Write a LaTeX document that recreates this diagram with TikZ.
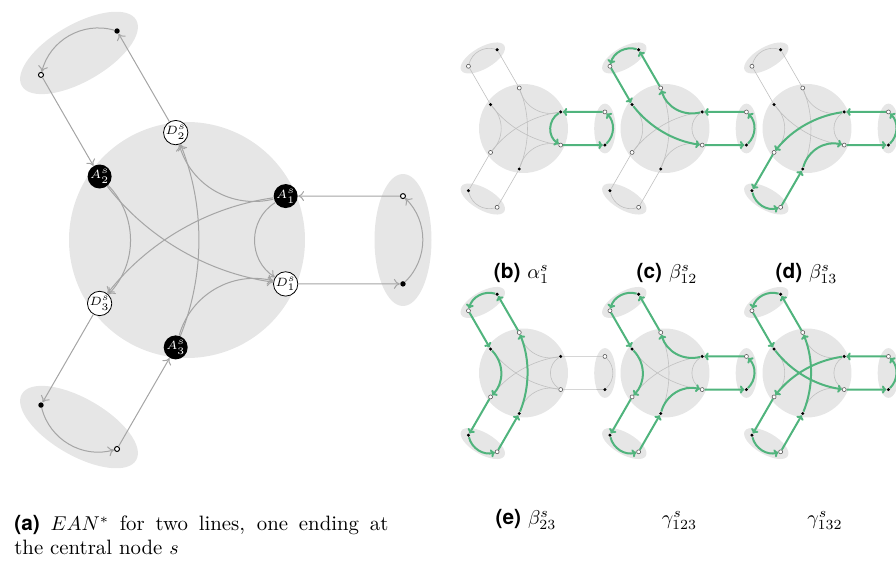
\documentclass[tikz,border=0pt]{standalone}
\usepackage{fontspec}
\newfontfamily\hvfont{TeX Gyre Heros}
\usetikzlibrary{arrows.meta}
\definecolor{bgfill}{RGB}{230,230,230}
\definecolor{edgegray}{RGB}{165,165,165}
\definecolor{lightedge}{RGB}{192,192,192}
\definecolor{hlgreen}{RGB}{80,180,125}
\tikzset{
  bigA/.style={circle, fill=black, text=white, minimum size=12pt, inner sep=0pt, font=\fontsize{6}{7}\selectfont},
  bigD/.style={circle, draw=black, line width=0.4pt, fill=white, minimum size=12pt, inner sep=0pt, font=\fontsize{6}{7}\selectfont},
  bigF/.style={circle, fill=black, minimum size=2.7pt, inner sep=0pt},
  bigO/.style={circle, draw=black, fill=white, line width=0.5pt, minimum size=2.5pt, inner sep=0pt},
  garrow/.style={draw=edgegray, line width=0.5pt, -{Computer Modern Rightarrow[length=3pt,width=5pt]}},
  smA/.style={circle, fill=black, minimum size=1.7pt, inner sep=0pt},
  smD/.style={circle, draw=black!65, fill=white, line width=0.3pt, minimum size=2pt, inner sep=0pt},
  sedge/.style={draw=lightedge, line width=0.3pt},
  hl/.style={draw=hlgreen, line width=1pt, -{Computer Modern Rightarrow[length=2.2pt,width=4pt]}},
  captext/.style={anchor=base, inner sep=0pt, font=\fontsize{10.4}{12.5}\selectfont}
}
\newcommand{\eanback}{%
  \fill[bgfill] (0,0) circle (118);
  \foreach \ang in {0,120,240} \fill[bgfill, rotate=\ang] (216,0) ellipse (28.5 and 66);
}
\newcommand{\eanedges}[2]{%
  \foreach \k/\n/\m in {1/2/3,2/3/1,3/1/2}{
    \draw[#2] (#1O\k) -- (#1A\k);
    \draw[#2] (#1D\k) -- (#1F\k);
    \draw[#2] (#1F\k) to[bend right=46] (#1O\k);
    \draw[#2] (#1A\k) to[bend left=44] (#1D\n);
    \draw[#2] (#1A\k) to[bend right=22, looseness=0.88] (#1D\m);
  }
  \draw[#2] (#1A1) to[bend right=58, looseness=1.1] (#1D1);}
\newcommand{\hloop}[2]{%
  \draw[hl] (#1D#2) -- (#1F#2);
  \draw[hl] (#1F#2) to[bend right=46] (#1O#2);
  \draw[hl] (#1O#2) -- (#1A#2);}
\newcommand{\hself}[2]{\draw[hl] (#1A#2) to[bend right=58, looseness=1.1] (#1D#2);}
\newcommand{\hnext}[3]{\draw[hl] (#1A#2) to[bend left=44] (#1D#3);}
\newcommand{\hprev}[3]{\draw[hl] (#1A#2) to[bend right=22, looseness=0.88] (#1D#3);}
\newcommand{\smallean}[3]{%
  \begin{scope}[shift={#2}, scale=0.377]
    \eanback
    \foreach \k/\ang in {1/0,2/120,3/240}{
      \node[smA] (#1A\k) at (\ang+24:108) {};
      \node[smD] (#1D\k) at (\ang-24:108) {};
      \node[smA] (#1F\k) at (\ang-11.49:220.4) {};
      \node[smD] (#1O\k) at (\ang+11.49:220.4) {};
    }
    \eanedges{#1}{sedge}
    #3
  \end{scope}}
\begin{document}
\begin{tikzpicture}[x=0.5pt, y=0.5pt]
\useasboundingbox (0,0) rectangle (896,-561);
% (a) main diagram
\begin{scope}[shift={(187,-240)}]
  \eanback
  \foreach \k/\ang in {1/0,2/120,3/240}{
    \node[bigA] (mA\k) at (\ang+24:108) {$A^s_{\k}$};
    \node[bigD] (mD\k) at (\ang-24:108) {$D^s_{\k}$};
    \node[bigF] (mF\k) at (\ang-11.49:220.4) {};
    \node[bigO] (mO\k) at (\ang+11.49:220.4) {};
  }
  \eanedges{m}{garrow}
\end{scope}
% small diagrams
\smallean{b}{(523.5,-128.5)}{\hloop{b}{1}\hself{b}{1}}
\smallean{c}{(665,-128.5)}{\hloop{c}{1}\hloop{c}{2}\hnext{c}{1}{2}\hprev{c}{2}{1}}
\smallean{d}{(807,-128.5)}{\hloop{d}{1}\hloop{d}{3}\hprev{d}{1}{3}\hnext{d}{3}{1}}
\smallean{e}{(523.5,-373)}{\hloop{e}{2}\hloop{e}{3}\hnext{e}{2}{3}\hprev{e}{3}{2}}
\smallean{f}{(665,-373)}{\hloop{f}{1}\hloop{f}{2}\hloop{f}{3}\hnext{f}{1}{2}\hnext{f}{2}{3}\hnext{f}{3}{1}}
\smallean{g}{(807,-373)}{\hloop{g}{1}\hloop{g}{2}\hloop{g}{3}\hprev{g}{1}{3}\hprev{g}{3}{2}\hprev{g}{2}{1}}
% captions
\node[captext, anchor=base west] (capa1) at (14,-531) {\makebox[187pt][s]{{\hvfont\bfseries (a)} $EAN^*$ for two lines, one ending at}};
\node[captext, anchor=base west] (capa2) at (14,-555) {the central node $s$};
\node[captext] (capb) at (521.5,-279) {{\hvfont\bfseries (b)} $\alpha^s_1$};
\node[captext] (capc) at (667,-279) {{\hvfont\bfseries (c)} $\beta^s_{12}$};
\node[captext] (capd) at (806.5,-279) {{\hvfont\bfseries (d)} $\beta^s_{13}$};
\node[captext] (cape) at (526,-525) {{\hvfont\bfseries (e)} $\beta^s_{23}$};
\node[captext] (capf) at (679.5,-525) {$\gamma^s_{123}$};
\node[captext] (capg) at (825,-525) {$\gamma^s_{132}$};
\end{tikzpicture}
\end{document}
